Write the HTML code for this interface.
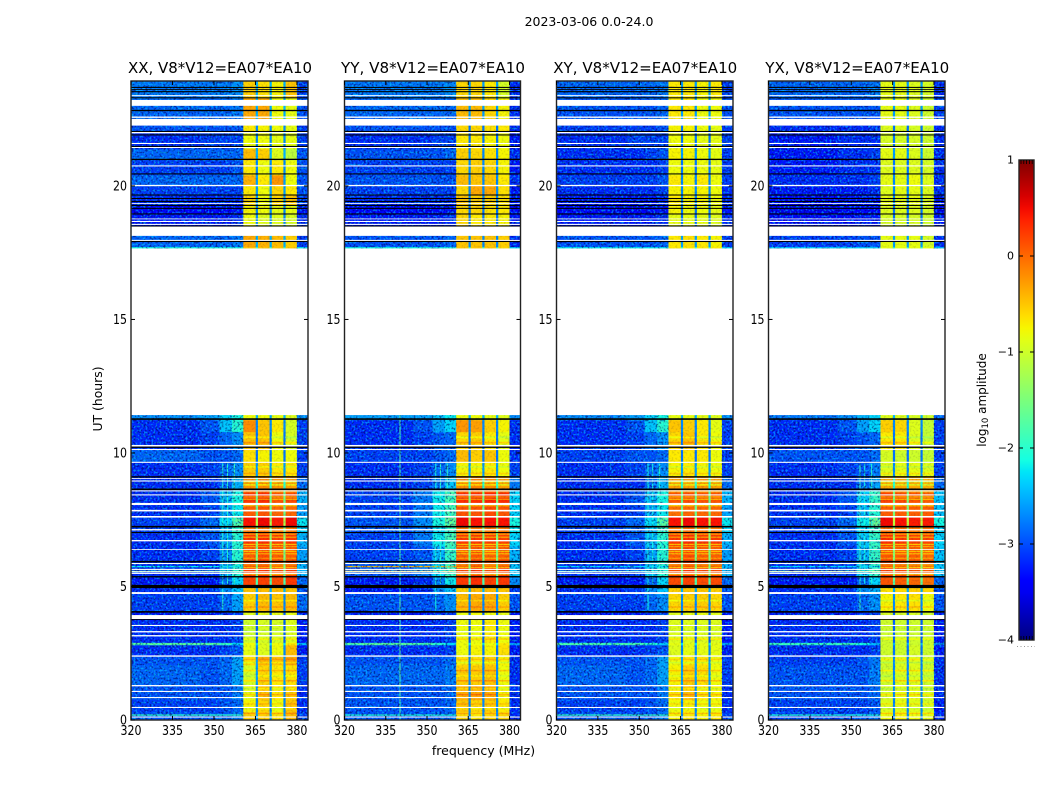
<!DOCTYPE html>
<html lang="en">
<head>
<meta charset="utf-8">
<title>2023-03-06 0.0-24.0</title>
<style>
html,body{margin:0;padding:0;background:#fff;}
svg{display:block;}
text{font-family:"DejaVu Sans","Liberation Sans",sans-serif;fill:#000;}
</style>
</head>
<body>
<svg id="chart" xmlns="http://www.w3.org/2000/svg" width="1050" height="800" viewBox="0 0 1050 800">
  <defs>
    <filter id="speckle-dark" x="0" y="0" width="100%" height="100%" color-interpolation-filters="sRGB">
      <feTurbulence type="fractalNoise" baseFrequency="0.5" numOctaves="1" seed="7"/>
      <feColorMatrix type="matrix" values="0 0 0 0 0  0 0 0 0 0  0 0 0 0 0.35  5 0 0 0 -2.4"/>
    </filter>
    <filter id="speckle-bright" x="0" y="0" width="100%" height="100%" color-interpolation-filters="sRGB">
      <feTurbulence type="fractalNoise" baseFrequency="0.5" numOctaves="1" seed="23"/>
      <feColorMatrix type="matrix" values="0 0 0 0 0  0 0 0 0 0.85  0 0 0 0 1  0 5 0 0 -2.5"/>
    </filter>
    <linearGradient id="jet-gradient" x1="0" y1="1" x2="0" y2="0"></linearGradient>
  </defs>
  <rect width="1050" height="800" fill="#fff"/>
  <text x="589" y="26" font-size="12.5" text-anchor="middle">2023-03-06 0.0-24.0</text>
  <text x="102" y="399" font-size="12.4" text-anchor="middle" transform="rotate(-90 102 399)">UT (hours)</text>
  <text x="483.500" y="755" font-size="12.500" text-anchor="middle">frequency (MHz)</text>
  <text x="986" y="400" font-size="12" text-anchor="middle" transform="rotate(-90 986 400)">log<tspan font-size="8.500" dy="2">10</tspan><tspan dy="-2"> amplitude</tspan></text>
  <g id="panels"></g>
  <g id="colorbar"></g>
</svg>
<script>
// ---------- Axis data ----------
const panelTitles = ["XX, V8*V12=EA07*EA10", "YY, V8*V12=EA07*EA10", "XY, V8*V12=EA07*EA10", "YX, V8*V12=EA07*EA10"];
const xTickValues = [320, 335, 350, 365, 380];
const yTickValues = [0, 5, 10, 15, 20];
const colorbarTickValues = [-4, -3, -2, -1, 0, 1];

// ---------- Frequency columns (MHz) ----------
const columnStarts = [320, 345, 352, 356.5, 360.6, 365.8, 370.8, 375.8, 380.0];
const columnEnds = [345, 352, 356.5, 360.6, 365.1, 370.1, 375.1, 380.0, 384];
const gapColumnStarts = [365.1, 370.1, 375.1];
const gapColumnEnds = [365.8, 370.8, 375.8];

// ---------- Time segments (UT hours) ----------
const segmentStarts = [0, .30, .75, 1.31, 2.06, 2.40, 2.81, 2.90, 3.75, 4.06, 4.72, 5.06, 5.36, 5.99, 6.52, 7.00, 7.27, 7.60, 8.05, 8.61, 9.14, 9.66, 10.11, 10.79, 11.24, 17.64, 17.72, 18.48, 18.95, 19.29, 19.66, 20.04, 20.41, 20.97, 21.39, 22.02, 22.50, 23.30];
const segmentEnds = [.30, .75, 1.31, 2.06, 2.40, 2.81, 2.90, 3.75, 4.06, 4.72, 5.06, 5.36, 5.99, 6.52, 7.00, 7.27, 7.60, 8.05, 8.61, 9.14, 9.66, 10.11, 10.79, 11.24, 11.42, 17.72, 18.48, 18.95, 19.29, 19.66, 20.04, 20.41, 20.97, 21.39, 22.02, 22.50, 23.30, 23.93];

// ---------- log10 amplitude: each row = nine columns, then the gap value ----------
const levelsXX = [
[-3.0,-3.0,-3.0,-2.8,-.55,-.55,-.65,-.45,-3.1,-2.6],
[-3.1,-3.1,-3.0,-2.9,-.75,-.6,-.8,-.5,-3.2,-2.7],
[-3.0,-3.0,-3.0,-2.8,-.85,-.5,-.7,-.55,-3.2,-2.7],
[-2.9,-3.0,-2.9,-2.6,-.95,-.6,-.7,-.65,-3.1,-2.6],
[-3.0,-3.0,-2.9,-2.6,-.65,-.4,-.5,-.35,-3.1,-2.6],
[-3.2,-3.2,-3.1,-3.0,-.85,-.9,-.8,-.45,-3.3,-2.7],
[-1.7,-1.7,-1.9,-2.3,-.8,-.9,-.8,-.7,-2.5,-2.3],
[-3.2,-3.2,-3.2,-3.1,-1.0,-.95,-.95,-.9,-3.3,-2.9],
[-3.3,-3.3,-3.2,-3.1,-.9,-.85,-.85,-.85,-3.3,-2.9],
[-3.1,-3.1,-2.9,-2.6,-.55,-.45,-.5,-.45,-2.9,-2.7],
[-3.2,-3.1,-2.7,-2.4,-.5,-.45,-.45,-.5,-3.0,-2.5],
[-3.3,-3.3,-2.9,-2.3,.2,.2,.15,.25,-2.9,-1.8],
[-3.2,-3.2,-2.6,-2.0,.2,.25,.1,.2,-2.5,-1.5],
[-3.2,-3.1,-2.7,-2.0,.05,.15,.05,.05,-2.6,-1.5],
[-3.2,-3.0,-2.6,-2.0,.25,.3,.2,.25,-2.5,-1.4],
[-3.1,-2.9,-2.5,-1.9,-.1,-.1,-.15,-.1,-2.3,-1.5],
[-3.1,-2.9,-2.3,-1.7,.45,.5,.4,.5,-2.2,-1.2],
[-3.2,-3.1,-2.6,-2.2,.05,.1,.0,.0,-2.6,-1.6],
[-3.2,-3.0,-2.5,-2.1,.25,.3,.1,.15,-2.5,-1.6],
[-3.2,-3.2,-2.9,-2.5,-.25,-.2,-.25,-.3,-2.9,-2.0],
[-3.2,-3.1,-2.9,-2.7,-.55,-.55,-.7,-.7,-3.1,-2.6],
[-2.9,-3.0,-3.0,-2.9,-.65,-.75,-.8,-.8,-3.1,-2.8],
[-3.2,-3.1,-2.9,-2.7,-.5,-.5,-.8,-.95,-3.1,-2.8],
[-3.2,-3.0,-2.4,-2.0,-.2,-.5,-.7,-.95,-3.1,-2.7],
[-2.7,-2.6,-2.3,-2.1,-.8,-.8,-.85,-.9,-2.7,-2.5],
[-2.1,-2.1,-2.1,-2.1,-.5,-.5,-.5,-.5,-2.2,-1.9],
[-2.9,-2.9,-2.9,-2.8,-.35,-.4,-.45,-.55,-3.1,-2.5],
[-3.3,-3.3,-3.3,-3.2,-.8,-.9,-.9,-.95,-3.2,-2.7],
[-3.4,-3.4,-3.4,-3.3,-.75,-.8,-.85,-.85,-3.3,-2.7],
[-3.2,-3.2,-3.2,-3.2,-.6,-.8,-.6,-.5,-3.1,-2.6],
[-3.1,-3.1,-3.1,-3.1,-.7,-.8,-.6,-.7,-3.0,-2.6],
[-2.9,-2.9,-2.9,-2.9,-.4,-.7,-.25,-.8,-3.0,-2.6],
[-3.1,-3.1,-3.1,-3.0,-.7,-.8,-.7,-.8,-3.0,-2.7],
[-2.9,-2.9,-2.9,-2.9,-.45,-.55,-.9,-1.1,-3.0,-2.5],
[-3.2,-3.1,-3.1,-3.1,-.8,-.8,-.85,-.85,-3.1,-2.7],
[-3.0,-3.0,-3.0,-3.0,-.7,-.75,-.8,-.85,-3.1,-2.7],
[-2.9,-2.9,-2.9,-2.8,-.35,-.35,-.8,-.85,-3.0,-2.5],
[-2.8,-2.8,-2.8,-2.7,-.55,-.65,-.75,-.5,-3.1,-2.5]
];
const levelsYY = [
[-3.0,-3.0,-3.0,-2.9,-.6,-.7,-.6,-.6,-3.2,-2.7],
[-3.0,-3.0,-3.0,-2.9,-.5,-.6,-.55,-.7,-3.2,-2.7],
[-3.0,-3.0,-3.0,-2.9,-.4,-.35,-.4,-.75,-3.2,-2.7],
[-2.9,-2.9,-2.9,-2.8,-.55,-.55,-.5,-.8,-3.2,-2.7],
[-3.0,-3.0,-3.0,-2.9,-.7,-.7,-.6,-.75,-3.2,-2.7],
[-3.2,-3.2,-3.2,-3.1,-.8,-.75,-.75,-.65,-3.3,-2.8],
[-1.7,-1.8,-2.0,-2.3,-.8,-.8,-.8,-.7,-2.6,-2.3],
[-3.2,-3.2,-3.2,-3.1,-.8,-.8,-.7,-.8,-3.3,-2.9],
[-3.3,-3.3,-3.2,-3.1,-.85,-.8,-.8,-.85,-3.3,-2.9],
[-3.0,-3.0,-2.9,-2.7,-.45,-.35,-.35,-.55,-3.0,-2.7],
[-3.3,-3.2,-2.7,-2.4,-.55,-.45,-.45,-.5,-3.1,-2.5],
[-3.3,-3.2,-2.8,-2.2,.25,.3,.2,.25,-2.7,-1.8],
[-3.0,-2.8,-2.3,-1.9,.15,.25,.1,.2,-2.4,-1.5],
[-3.1,-3.0,-2.5,-1.9,.05,.1,.0,.05,-2.5,-1.5],
[-3.1,-2.8,-2.2,-1.8,.25,.25,.2,.2,-2.3,-1.5],
[-3.0,-2.8,-2.3,-1.9,-.1,-.1,-.1,-.1,-2.2,-1.5],
[-3.0,-2.7,-2.1,-1.6,.5,.45,.45,.45,-2.1,-1.3],
[-3.1,-2.8,-2.2,-1.8,.1,.1,.15,.1,-2.3,-1.5],
[-3.1,-2.8,-2.2,-1.8,.3,.3,.35,.3,-2.3,-1.5],
[-3.2,-3.1,-2.8,-2.4,-.2,-.15,-.2,-.3,-2.8,-2.0],
[-3.2,-3.1,-2.9,-2.7,-.75,-.75,-.7,-.8,-3.1,-2.6],
[-3.1,-3.1,-3.0,-2.9,-.45,-.55,-.5,-.8,-3.2,-2.8],
[-3.2,-3.1,-3.0,-2.9,-.6,-.55,-.7,-.85,-3.2,-2.8],
[-3.2,-3.0,-2.6,-2.3,-.25,-.3,-.55,-.75,-3.2,-2.7],
[-2.6,-2.6,-2.4,-2.2,-.8,-.8,-.85,-.9,-2.7,-2.5],
[-2.1,-2.1,-2.1,-2.1,-.5,-.5,-.5,-.6,-2.3,-1.9],
[-3.0,-3.0,-3.0,-2.9,-.5,-.5,-.5,-.55,-3.2,-2.7],
[-3.3,-3.3,-3.3,-3.2,-.6,-.7,-.7,-.75,-3.3,-2.8],
[-3.4,-3.4,-3.4,-3.3,-.6,-.6,-.65,-.7,-3.4,-2.8],
[-3.2,-3.2,-3.2,-3.2,-.5,-.55,-.55,-.65,-3.3,-2.7],
[-3.1,-3.1,-3.1,-3.1,-.6,-.35,-.35,-.65,-3.3,-2.7],
[-3.0,-3.0,-3.0,-3.0,-.45,-.5,-.5,-.7,-3.2,-2.7],
[-3.1,-3.1,-3.1,-3.1,-.6,-.55,-.6,-.75,-3.3,-2.7],
[-3.0,-3.0,-3.0,-2.9,-.55,-.6,-.65,-.75,-3.2,-2.7],
[-3.2,-3.2,-3.1,-3.1,-.7,-.7,-.75,-.8,-3.3,-2.8],
[-3.0,-3.0,-3.0,-3.0,-.6,-.6,-.65,-.7,-3.2,-2.8],
[-2.9,-2.9,-2.9,-2.9,-.45,-.45,-.6,-.75,-3.2,-2.6],
[-2.8,-2.8,-2.8,-2.7,-.6,-.6,-.7,-.95,-3.2,-2.6]
];
const levelsXY = [
[-3.0,-3.0,-3.0,-2.8,-.75,-.7,-.75,-.7,-3.1,-2.7],
[-3.1,-3.1,-3.0,-2.9,-.8,-.75,-.8,-.8,-3.2,-2.7],
[-3.0,-3.0,-3.0,-2.8,-.7,-.5,-.7,-.75,-3.2,-2.7],
[-2.9,-3.0,-2.9,-2.6,-.75,-.55,-.65,-.8,-3.1,-2.6],
[-3.0,-3.0,-2.9,-2.6,-.8,-.7,-.7,-.8,-3.1,-2.6],
[-3.2,-3.2,-3.1,-3.0,-.9,-.85,-.85,-.85,-3.3,-2.7],
[-1.8,-1.8,-2.0,-2.4,-.85,-.85,-.85,-.85,-2.6,-2.3],
[-3.2,-3.2,-3.2,-3.1,-.9,-.9,-.9,-.9,-3.3,-2.9],
[-3.3,-3.3,-3.2,-3.1,-.9,-.85,-.85,-.9,-3.3,-2.9],
[-3.1,-3.1,-2.9,-2.7,-.6,-.55,-.55,-.6,-3.0,-2.7],
[-3.2,-3.1,-2.7,-2.4,-.55,-.5,-.5,-.55,-3.0,-2.5],
[-3.3,-3.3,-2.9,-2.3,.15,.2,.15,.15,-2.9,-1.8],
[-3.2,-3.1,-2.5,-2.0,.15,.25,.15,.15,-2.5,-1.5],
[-3.2,-3.1,-2.6,-2.0,.05,.15,.05,.05,-2.6,-1.5],
[-3.2,-3.0,-2.5,-2.0,.25,.3,.25,.25,-2.5,-1.4],
[-3.1,-2.9,-2.5,-1.9,-.1,-.05,-.1,-.1,-2.3,-1.5],
[-3.1,-2.9,-2.3,-1.7,.45,.5,.45,.45,-2.2,-1.2],
[-3.2,-3.1,-2.6,-2.2,-.05,.0,.0,.0,-2.6,-1.6],
[-3.2,-3.0,-2.5,-2.1,.1,.15,.1,.1,-2.5,-1.6],
[-3.2,-3.2,-2.9,-2.5,-.3,-.3,-.25,-.3,-2.9,-2.0],
[-3.2,-3.1,-2.9,-2.7,-.75,-.7,-.75,-.8,-3.1,-2.6],
[-3.1,-3.0,-3.0,-2.9,-.7,-.7,-.7,-.8,-3.1,-2.8],
[-3.2,-3.1,-2.9,-2.7,-.6,-.5,-.7,-.8,-3.1,-2.8],
[-3.2,-3.0,-2.4,-2.0,-.5,-.55,-.7,-.85,-3.1,-2.7],
[-2.7,-2.6,-2.3,-2.1,-.85,-.85,-.85,-.9,-2.7,-2.5],
[-2.2,-2.2,-2.2,-2.2,-.7,-.7,-.7,-.7,-2.3,-1.9],
[-3.0,-3.0,-3.0,-2.9,-.7,-.65,-.7,-.75,-3.1,-2.6],
[-3.3,-3.3,-3.3,-3.2,-.85,-.85,-.85,-.9,-3.2,-2.8],
[-3.4,-3.4,-3.4,-3.3,-.75,-.8,-.8,-.85,-3.3,-2.8],
[-3.3,-3.3,-3.3,-3.2,-.7,-.75,-.75,-.8,-3.2,-2.7],
[-3.2,-3.2,-3.2,-3.1,-.75,-.75,-.75,-.8,-3.2,-2.7],
[-3.1,-3.1,-3.1,-3.0,-.7,-.75,-.7,-.8,-3.1,-2.7],
[-3.2,-3.2,-3.2,-3.1,-.8,-.8,-.8,-.85,-3.1,-2.8],
[-3.2,-3.2,-3.1,-3.0,-.75,-.75,-.8,-.85,-3.1,-2.6],
[-3.2,-3.1,-3.1,-3.1,-.8,-.8,-.85,-.85,-3.1,-2.8],
[-3.1,-3.1,-3.1,-3.0,-.75,-.75,-.8,-.85,-3.1,-2.8],
[-3.0,-3.0,-3.0,-2.9,-.7,-.7,-.8,-.8,-3.0,-2.6],
[-2.9,-2.9,-2.9,-2.8,-.7,-.7,-.75,-.7,-3.1,-2.6]
];
const levelsYX = [
[-3.1,-3.1,-3.0,-2.9,-.8,-.75,-.8,-.85,-3.2,-2.7],
[-3.1,-3.1,-3.1,-3.0,-.9,-.85,-.9,-.95,-3.3,-2.7],
[-3.0,-3.0,-3.0,-2.9,-.95,-.85,-.85,-.95,-3.2,-2.7],
[-3.0,-3.0,-3.0,-2.8,-1.0,-.9,-.9,-1.0,-3.2,-2.7],
[-3.1,-3.1,-3.0,-2.8,-.95,-.9,-.9,-1.0,-3.2,-2.7],
[-3.2,-3.2,-3.2,-3.1,-1.0,-1.0,-.95,-1.0,-3.3,-2.8],
[-1.9,-1.9,-2.1,-2.5,-1.0,-1.0,-1.0,-1.0,-2.7,-2.5],
[-3.2,-3.2,-3.2,-3.1,-1.0,-1.0,-1.0,-1.0,-3.3,-2.9],
[-3.3,-3.3,-3.2,-3.1,-.95,-.95,-.95,-1.0,-3.3,-2.9],
[-3.1,-3.1,-2.9,-2.7,-.75,-.7,-.65,-.8,-3.0,-2.7],
[-3.2,-3.1,-2.7,-2.5,-.65,-.6,-.55,-.6,-3.0,-2.5],
[-3.3,-3.3,-2.9,-2.3,.1,.05,.0,-.05,-2.9,-1.7],
[-3.2,-3.1,-2.4,-1.9,.2,.15,.1,.05,-2.4,-1.4],
[-3.2,-3.1,-2.5,-1.9,.1,.05,.05,.0,-2.4,-1.4],
[-3.2,-3.0,-2.4,-1.9,.3,.25,.2,.2,-2.3,-1.3],
[-3.1,-2.9,-2.4,-1.9,-.05,-.05,-.1,-.05,-2.3,-1.4],
[-3.1,-2.9,-2.2,-1.6,.5,.45,.4,.4,-2.1,-1.1],
[-3.2,-3.1,-2.5,-2.0,.05,.05,.05,.05,-2.4,-1.5],
[-3.2,-3.0,-2.4,-1.9,.2,.15,.1,.05,-2.4,-1.5],
[-3.2,-3.2,-2.9,-2.6,-.35,-.35,-.35,-.4,-2.9,-2.0],
[-3.2,-3.1,-3.0,-2.8,-.9,-.85,-.85,-.9,-3.1,-2.7],
[-3.0,-3.0,-3.0,-2.9,-.95,-1.0,-1.0,-1.05,-3.1,-2.8],
[-3.2,-3.1,-3.0,-2.9,-.7,-.7,-.9,-1.05,-3.1,-2.8],
[-3.2,-3.0,-2.6,-2.3,-.55,-.6,-.9,-1.05,-3.1,-2.7],
[-2.8,-2.7,-2.5,-2.3,-.9,-.9,-.95,-1.0,-2.9,-2.5],
[-2.3,-2.3,-2.3,-2.3,-.85,-.85,-.85,-.85,-2.4,-2.0],
[-3.1,-3.1,-3.0,-3.0,-.85,-.85,-.85,-.95,-3.2,-2.6],
[-3.4,-3.4,-3.3,-3.3,-.95,-.95,-.95,-1.0,-3.3,-2.8],
[-3.5,-3.4,-3.4,-3.4,-.9,-.9,-.9,-.95,-3.4,-2.8],
[-3.4,-3.3,-3.3,-3.3,-.85,-.85,-.85,-.9,-3.3,-2.7],
[-3.3,-3.3,-3.3,-3.2,-.9,-.85,-.85,-.9,-3.2,-2.7],
[-3.2,-3.2,-3.2,-3.1,-.85,-.85,-.8,-.9,-3.2,-2.7],
[-3.3,-3.2,-3.2,-3.2,-.9,-.9,-.9,-.95,-3.2,-2.8],
[-3.3,-3.2,-3.2,-3.1,-.85,-.85,-.9,-1.0,-3.2,-2.6],
[-3.3,-3.2,-3.2,-3.2,-.95,-.95,-.95,-1.0,-3.2,-2.8],
[-3.2,-3.2,-3.2,-3.1,-.9,-.9,-.95,-1.0,-3.2,-2.8],
[-3.0,-3.0,-3.0,-3.0,-.85,-.85,-.9,-1.0,-3.1,-2.6],
[-2.9,-2.9,-2.9,-2.8,-.85,-.85,-.9,-.95,-3.2,-2.6]
];

// ---------- Ripple rows across the bright band: start/end hour and amplitude change ----------
const rippleStarts = [.22,.40,.58,.92,1.14,1.44,1.62,1.82,2.12,2.24,3.00,3.30,4.20,4.44,5.43,5.69,5.78,6.03,6.20,6.29,6.48,6.55,6.82,6.93,8.00,8.24,8.33,8.52,8.78,8.90,9.20,9.45,10.35,10.55];
const rippleEnds = [.27,.44,.62,.98,1.20,1.50,1.68,1.88,2.18,2.30,3.06,3.36,4.26,4.50,5.48,5.74,5.83,6.08,6.25,6.34,6.52,6.60,6.87,6.98,8.05,8.29,8.38,8.57,8.83,8.96,9.26,9.51,10.42,10.62];
const rippleDeltas = [.25,-.2,.25,.3,-.2,.3,-.15,.25,-.2,.2,.2,-.15,.2,-.2,-.5,-.6,-.4,-.3,-.45,-.5,-.35,-.7,-.5,-.45,-.5,-.5,-.45,-.4,-.55,-.6,.2,-.2,.25,-.2];

// ---------- Thin horizontal streaks and vertical interference lines ----------
const streakStarts = [5.54, 5.72, .16];
const streakEnds = [5.59, 5.77, .21];
const streakLevelsXX = [-1.6, -2.2, -1.9];
const streakLevelsYY = [-.6, -.4, -2.0];
const streakLevelsXY = [-1.9, -2.3, -1.9];
const streakLevelsYX = [-1.2, -2.3, -2.0];

const spurFreqs = [340, 353, 354.7, 357.2];
const spurStarts = [0, 4.1, 5.1, 5.1];
const spurEnds = [11.42, 9.6, 9.6, 9.6];
const spurLevelsXX = [-3.0, -2.0, -2.0, -1.9];
const spurLevelsYY = [-1.7, -2.1, -2.0, -1.9];
const spurLevelsXY = [-3.0, -2.1, -2.1, -2.0];
const spurLevelsYX = [-3.0, -1.9, -2.1, -2.0];

// ---------- Shared blanked (white) and flagged (black) time ranges ----------
const blankStarts = [.09,.45,.82,1.05,1.26,2.37,3.13,3.28,3.52,3.78,4.72,5.47,5.53,5.62,5.84,6.37,6.69,7.10,7.58,7.81,8.05,8.41,8.56,8.93,9.03,9.63,10.11,10.24,11.42,17.94,18.13,18.54,18.65,18.75,19.33,19.99,20.73,21.42,21.57,21.97,22.26,22.55,23.00,23.36];
const blankEnds = [.13,.49,.86,1.09,1.31,2.42,3.18,3.33,3.56,3.93,4.79,5.51,5.57,5.66,5.88,6.40,6.74,7.15,7.64,7.87,8.13,8.45,8.60,8.97,9.06,9.67,10.15,10.30,17.66,17.98,18.48,18.58,18.69,18.78,19.36,20.04,20.77,21.46,21.61,22.02,22.51,22.60,23.22,23.40];
const flagStarts = [3.75,4.02,4.94,5.34,5.90,7.00,7.21,8.61,9.08,10.19,11.24,17.90,18.48,18.93,19.14,19.25,19.40,19.51,19.64,20.43,20.97,21.46,21.89,22.02,22.80,23.28,23.51,23.60,23.67];
const flagEnds = [3.78,4.08,5.06,5.39,5.96,7.04,7.27,8.67,9.13,10.24,11.30,17.94,18.52,18.97,19.18,19.29,19.44,19.55,19.68,20.47,21.02,21.50,21.93,22.06,22.85,23.32,23.55,23.63,23.71];

const panelLevels = [levelsXX, levelsYY, levelsXY, levelsYX];
const panelStreaks = [streakLevelsXX, streakLevelsYY, streakLevelsXY, streakLevelsYX];
const panelSpurs = [spurLevelsXX, spurLevelsYY, spurLevelsXY, spurLevelsYX];

// ---------- Layout and scales ----------
const panelLefts = [131, 344.5, 556.5, 768.5];
const panelWidths = [177, 176, 176.5, 176.5];
const plotTop = 81, plotBottom = 720;
const freqMin = 320, freqMax = 384, timeMax = 23.93;
const cbarLeft = 1019, cbarRight = 1034, cbarTop = 160, cbarBottom = 640;
const vMin = -4, vMax = 1;

function xScale(p, f) { return panelLefts[p] + (f - freqMin) / (freqMax - freqMin) * panelWidths[p]; }
function yScale(t) { return plotBottom - t / timeMax * (plotBottom - plotTop); }
function cbarY(v) { return cbarBottom - (v - vMin) / (vMax - vMin) * (cbarBottom - cbarTop); }

function piecewise(pts, x) {
  for (let i = 1; i < pts.length; i++) {
    if (x <= pts[i][0]) {
      const a = pts[i - 1], b = pts[i];
      return a[1] + (b[1] - a[1]) * (x - a[0]) / (b[0] - a[0]);
    }
  }
  return pts[pts.length - 1][1];
}
const jetR = [[0,0],[.35,0],[.66,1],[.89,1],[1,.5]];
const jetG = [[0,0],[.125,0],[.375,1],[.64,1],[.91,0],[1,0]];
const jetB = [[0,.5],[.11,1],[.34,1],[.65,0],[1,0]];
function jet(v) {
  const x = Math.max(0, Math.min(1, (v - vMin) / (vMax - vMin)));
  const c = s => Math.round(255 * piecewise(s, x));
  return 'rgb(' + c(jetR) + ',' + c(jetG) + ',' + c(jetB) + ')';
}

const NS = 'http://www.w3.org/2000/svg';
function make(tag, attrs, parent) {
  const el = document.createElementNS(NS, tag);
  for (const k in attrs) el.setAttribute(k, attrs[k]);
  parent.appendChild(el);
  return el;
}

const panelsRoot = document.getElementById('panels');
panelTitles.forEach(function (title, p) {
  const g = make('g', {}, panelsRoot);
  
  

  const left = panelLefts[p], width = panelWidths[p];
  const levels = panelLevels[p];
  segmentStarts.forEach(function (t0, r) {
    const t1 = segmentEnds[r];
    const y = yScale(t1), h = yScale(t0) - y;
    columnStarts.forEach(function (f0, c) {
      const x0 = xScale(p, f0), x1 = xScale(p, columnEnds[c]);
      const cell = make('rect', { x: x0, y: y, width: x1 - x0 + .3, height: h + .3, fill: jet(levels[r][c]) }, g);
      
      
    });
    gapColumnStarts.forEach(function (f0, c) {
      const x0 = xScale(p, f0), x1 = xScale(p, gapColumnEnds[c]);
      const gap = make('rect', { x: x0, y: y, width: x1 - x0 + .3, height: h + .3, fill: jet(levels[r][9]) }, g);
      
      
    });
  });

  rippleStarts.forEach(function (t0, i) {
    const t1 = rippleEnds[i];
    const r = segmentStarts.findIndex(function (s, k) { return t0 >= s && t0 < segmentEnds[k]; });
    if (r < 0) return;
    const y = yScale(t1), h = yScale(t0) - y;
    [4, 5, 6, 7].forEach(function (c) {
      const x0 = xScale(p, columnStarts[c]), x1 = xScale(p, columnEnds[c]);
      const rip = make('rect', { x: x0, y: y, width: x1 - x0, height: h, fill: jet(levels[r][c] + rippleDeltas[i]) }, g);
      
      
    });
  });

  streakStarts.forEach(function (t0, i) {
    const y = yScale(streakEnds[i]);
    const s = make('rect', { x: xScale(p, freqMin), y: y, width: xScale(p, 360.6) - xScale(p, freqMin), height: yScale(t0) - y, fill: jet(panelStreaks[p][i]) }, g);
    
    
  });
  spurFreqs.forEach(function (f, i) {
    const y = yScale(spurEnds[i]);
    const s = make('rect', { x: xScale(p, f), y: y, width: 1, height: yScale(spurStarts[i]) - y, fill: jet(panelSpurs[p][i]) }, g);
    
    
  });

  const bandX0 = xScale(p, 360.6), bandX1 = xScale(p, 380.0), end = left + width;
  [[left, bandX0], [bandX1, end]].forEach(function (range) {
    ['speckle-dark', 'speckle-bright'].forEach(function (fid) {
      const n = make('rect', { x: range[0], y: plotTop, width: range[1] - range[0], height: plotBottom - plotTop, filter: 'url(#' + fid + ')', opacity: fid === 'speckle-dark' ? .55 : .5 }, g);
      
      
    });
  });
  const bandNoise = make('rect', { x: bandX0, y: plotTop, width: bandX1 - bandX0, height: plotBottom - plotTop, filter: 'url(#speckle-dark)', opacity: .1 }, g);
  
  

  blankStarts.forEach(function (t0, i) {
    const y = yScale(blankEnds[i]);
    const b = make('rect', { x: left, y: y, width: width, height: yScale(t0) - y, fill: '#fff' }, g);
    
    
  });
  flagStarts.forEach(function (t0, i) {
    const y = yScale(flagEnds[i]);
    const b = make('rect', { x: left, y: y, width: width, height: yScale(t0) - y, fill: '#000' }, g);
    
    
  });

  const frame = make('rect', { x: left, y: plotTop, width: width, height: plotBottom - plotTop, fill: 'none', stroke: '#222', 'stroke-width': 1.4 }, g);
  
  

  xTickValues.forEach(function (v) {
    const x = xScale(p, v);
    const t1 = make('line', { x1: x, x2: x, y1: plotBottom, y2: plotBottom - 4, stroke: '#000' }, g);
    
    
    const t2 = make('line', { x1: x, x2: x, y1: plotTop, y2: plotTop + 4, stroke: '#000' }, g);
    
    
    const l = make('text', { x: x, y: 735, 'font-size': 13, 'text-anchor': 'middle', textLength: 21, lengthAdjust: 'spacingAndGlyphs' }, g);
    l.textContent = String(v);
    
    
  });
  yTickValues.forEach(function (v) {
    const y = yScale(v);
    const t1 = make('line', { x1: left, x2: left + 4, y1: y, y2: y, stroke: '#000' }, g);
    
    
    const t2 = make('line', { x1: left + width, x2: left + width - 4, y1: y, y2: y, stroke: '#000' }, g);
    
    
    const l = make('text', { x: left - 4, y: y + 4.5, 'font-size': 13, 'text-anchor': 'end', textLength: String(v).length * 7, lengthAdjust: 'spacingAndGlyphs' }, g);
    l.textContent = String(v);
    
    
  });

  const ttl = make('text', { x: left + width / 2 + .5, y: 73, 'font-size': 15.5, 'text-anchor': 'middle', textLength: 184, lengthAdjust: 'spacingAndGlyphs' }, g);
  ttl.textContent = title;
  
  
});

// ---------- Colorbar ----------
const gradient = document.getElementById('jet-gradient');
for (let i = 0; i <= 40; i++) {
  make('stop', { offset: (i / 40), 'stop-color': jet(vMin + (vMax - vMin) * i / 40) }, gradient);
}
const cb = document.getElementById('colorbar');
const cbRect = make('rect', { x: cbarLeft, y: cbarTop, width: cbarRight - cbarLeft, height: cbarBottom - cbarTop, fill: 'url(#jet-gradient)', stroke: '#222', 'stroke-width': 1.4 }, cb);


colorbarTickValues.forEach(function (v) {
  const y = cbarY(v);
  if (v > vMin && v < vMax) {
    const a = make('line', { x1: cbarLeft, x2: cbarLeft + 4, y1: y, y2: y, stroke: '#000' }, cb);
    
    
    const b = make('line', { x1: cbarRight, x2: cbarRight - 4, y1: y, y2: y, stroke: '#000' }, cb);
    
    
  }
  const l = make('text', { x: cbarLeft - 5, y: y + 3.5, 'font-size': 11, 'text-anchor': 'end' }, cb);
  l.textContent = v < 0 ? '\u2212' + Math.abs(v) : String(v);
  
  
});
[0, 1, 2, 3, 4].forEach(function (i) {
  const x = cbarLeft + 2 + i * 2.8;
  const a = make('line', { x1: x, x2: x, y1: cbarTop, y2: cbarTop + 4, stroke: '#000', 'stroke-width': .8 }, cb);
  
  
  const b = make('line', { x1: x, x2: x, y1: cbarBottom, y2: cbarBottom - 4, stroke: '#000', 'stroke-width': .8 }, cb);
  
  
});
const dots = make('line', { x1: 1017, x2: 1035, y1: 646.5, y2: 646.5, stroke: '#999', 'stroke-width': 1, 'stroke-dasharray': '1 2.500' }, cb);


</script>
</body>
</html>
